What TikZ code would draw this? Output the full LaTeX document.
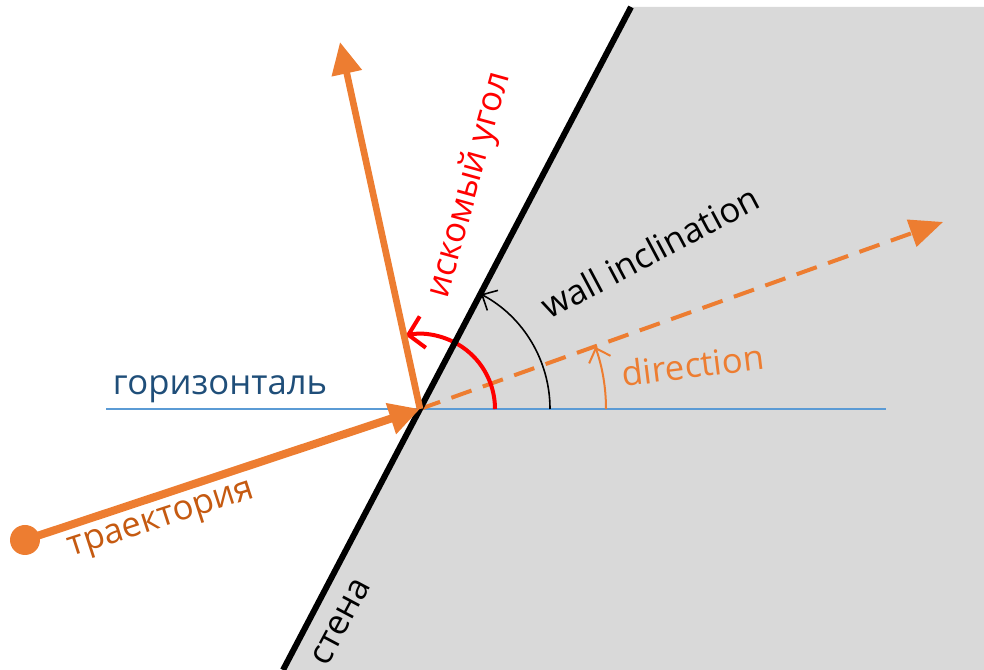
\documentclass[tikz,border=0pt]{standalone}
\usepackage{fontspec}
\setmainfont{Open Sans}
\usepackage{tikz}
\usetikzlibrary{arrows.meta}
\definecolor{naranja}{RGB}{237,125,49}
\definecolor{naranjaosc}{RGB}{197,90,17}
\definecolor{azul}{RGB}{31,78,121}
\definecolor{celeste}{RGB}{91,155,213}
\definecolor{gris}{RGB}{217,217,217}

\begin{document}
\begin{tikzpicture}[x=0.75pt,y=0.75pt,
lbl/.style={font=\fontsize{26}{30}\selectfont,inner sep=0pt},
tray/.style={draw=naranja,line width=6pt,-{Triangle[length=23pt,width=23pt]}},
refl/.style={draw=naranja,line width=5pt,-{Triangle[length=24pt,width=22pt]}},
dir/.style={draw=naranja,line width=3pt,dash pattern=on 16pt off 9pt,-{Triangle[length=25pt,width=21pt]}},
barb/.style={-{Straight Barb[length=9pt,width=17pt]}}
]
\useasboundingbox (0,0) rectangle (984,670);
\coordinate (o) at (420,261);
\coordinate (wt) at (631,663);
\coordinate (wb) at (283,0);
\coordinate (hl) at (106,261);
\coordinate (hr) at (886,261);
\coordinate (rt) at (340,628);
\coordinate (dt) at (943,448);

\fill[gris] (wt) -- (984,663) -- (984,0) -- (wb) -- cycle;
\draw[celeste,line width=1.5pt] (hl) -- (hr);
\draw[dir] (o) -- (dt);

\draw[red,line width=3pt,-{Straight Barb[length=11pt,width=24pt]}] ([shift={(0:75)}]o) arc[start angle=0,end angle=101,radius=75];
\draw[black,line width=1.2pt,barb] ([shift={(0:130)}]o) arc[start angle=0,end angle=62,radius=130];
\draw[naranja,line width=1.5pt,barb] ([shift={(0:186)}]o) arc[start angle=0,end angle=19.5,radius=186];

\draw[line width=4.5pt,black] (wb) -- (wt);

\node[circle,fill=naranja,minimum size=22.5pt,inner sep=0pt] (ini) at (25,130) {};
\draw[tray] (ini.center) -- (o);
\draw[refl] (o) -- (rt);

\node[lbl,text=azul] (hor) at (220,281) {горизонталь};
\node[lbl,text=naranjaosc,rotate=18] (trl) at (162,148) {траектория};
\node[lbl,rotate=62] (ste) at (341,48) {стена};
\node[lbl,text=red,rotate=74.5] (bus) at (470,485) {искомый угол};
\node[lbl,rotate=28] (inc) at (650,418) {wall inclination};
\node[lbl,text=naranja,rotate=7] (drl) at (693,305) {direction};
\end{tikzpicture}
\end{document}
